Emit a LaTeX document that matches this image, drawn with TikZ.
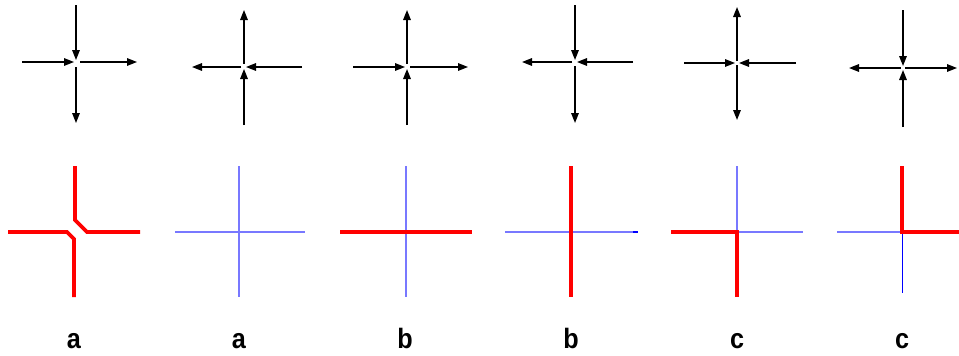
\documentclass[tikz,border=0pt]{standalone}
\usepackage{fontspec}
\setmainfont{Liberation Sans}
\usetikzlibrary{arrows.meta}
\definecolor{lblue}{RGB}{120,120,255}
\tikzset{
  arr/.style={line width=1.5pt,-{Triangle[length=10pt,width=7.5pt]}},
  redl/.style={draw=red,line width=3.8pt,line join=miter},
  bluel/.style={draw=lblue,line width=1.2pt},
  lab/.style={anchor=base,font=\fontsize{28}{28}\selectfont\bfseries,xscale=0.9}
}
\begin{document}
\begin{tikzpicture}[x=1pt,y=-1pt]
\useasboundingbox (0,0) rectangle (959,356);
% top row
% 1
\draw[arr] (76,5) -- (76,60);
\draw[arr] (22,62) -- (74,62);
\draw[arr] (80,62) -- (137,62);
\draw[arr] (76,67) -- (76,123);
% 2
\draw[arr] (244,64) -- (244,10);
\draw[arr] (241,67) -- (192,67);
\draw[arr] (302,67) -- (246,67);
\draw[arr] (244,125) -- (244,69);
% 3
\draw[arr] (407,64) -- (407,10);
\draw[arr] (353,67) -- (405,67);
\draw[arr] (410,67) -- (468,67);
\draw[arr] (407,125) -- (407,69);
% 4
\draw[arr] (575,5) -- (575,60);
\draw[arr] (572,62) -- (522,62);
\draw[arr] (633,62) -- (577,62);
\draw[arr] (575,66) -- (575,123);
% 5
\draw[arr] (737,61) -- (737,7);
\draw[arr] (737,65) -- (737,120);
\draw[arr] (684,63) -- (735,63);
\draw[arr] (796,63) -- (739,63);
% 6
\draw[arr] (903,10) -- (903,66);
\draw[arr] (903,127) -- (903,70);
\draw[arr] (901,68) -- (849,68);
\draw[arr] (905,68) -- (957,68);
% bottom row
% 1
\draw[redl] (75,166) -- (75,220) -- (87,232) -- (140,232);
\draw[redl] (8,232) -- (67,232) -- (74,239) -- (74,297);
% 2
\draw[bluel] (239,166) -- (239,297);
\draw[bluel] (175,232) -- (305,232);
% 3
\draw[bluel] (406,166) -- (406,297);
\draw[redl] (340,232) -- (472,232);
% 4
\draw[draw=lblue,line width=1.8pt] (505,232) -- (634,232);
\draw[draw=blue,line width=1.8pt] (633,232) -- (638,232);
\draw[redl] (571,166) -- (571,297);
% 5
\draw[bluel] (737,166) -- (737,232) -- (803,232);
\draw[redl] (671,232) -- (737,232) -- (737,297);
% 6
\draw[bluel] (837,232) -- (902,232);
\draw[draw=blue,line width=1pt] (902,232) -- (902,293);
\draw[redl] (902,166) -- (902,232) -- (959,232);
% labels
\node[lab] (l1) at (74,348) {a};
\node[lab] (l2) at (239,348) {a};
\node[lab] (l3) at (405,348) {b};
\node[lab] (l4) at (571,348) {b};
\node[lab] (l5) at (737,348) {c};
\node[lab] (l6) at (902,348) {c};
\end{tikzpicture}
\end{document}
